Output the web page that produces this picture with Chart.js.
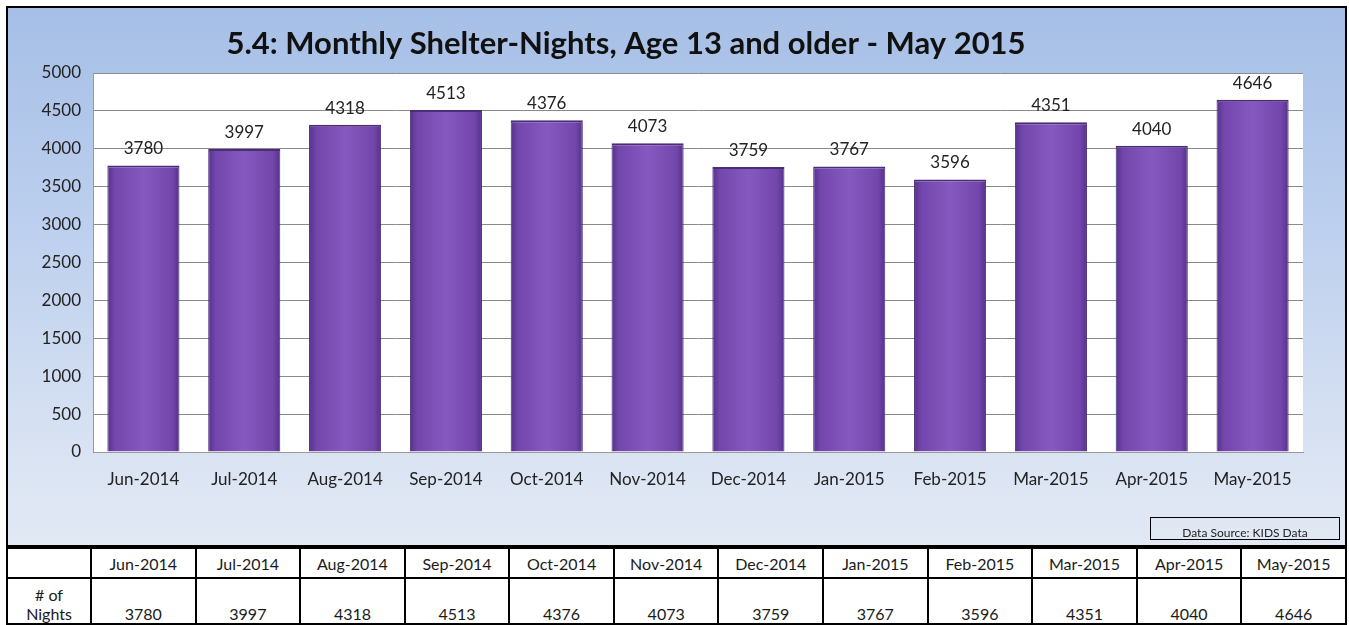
<!DOCTYPE html>
<html>
<head>
<meta charset="utf-8">
<script src="https://cdn.jsdelivr.net/npm/chart.js@4.4.1/dist/chart.umd.min.js"></script>
<style>
  body { margin: 0; background: #fff; font-family: Lato, "Open Sans", sans-serif; }
  #box {
    position: absolute; left: 6px; top: 6px; width: 1337px; height: 537px;
    border: 2px solid #000;
    background: linear-gradient(180deg, #a6bfe6 0%, #bccfee 40%, #dbe4f3 85%, #e2e9f5 100%);
  }
  #chart { position: absolute; left: 0; top: 0; }
  #source {
    position: absolute; left: 1142px; top: 509px; width: 188px; height: 21px;
    border: 1.5px solid #000; font-size: 12px; text-align: center;
    line-height: 30px; overflow: hidden; color: #222;
  }
  table {
    position: absolute; left: 6px; top: 547px; width: 1341px;
    border-collapse: collapse; table-layout: fixed; font-size: 16px; color: #1a1a1a;
  }
  td { border: 2px solid #000; text-align: center; padding: 0; background: #fff; }
  tr.head td { height: 28px; }
  tr.vals td { height: 44px; vertical-align: bottom; line-height: 19px; }
</style>
</head>
<body>
<div id="box">
  <canvas id="chart" width="1337" height="537"></canvas>
  <div id="source">Data Source: KIDS Data</div>
</div>
<table id="tbl"></table>
<script>
const months = ['Jun-2014', 'Jul-2014', 'Aug-2014', 'Sep-2014', 'Oct-2014', 'Nov-2014',
                'Dec-2014', 'Jan-2015', 'Feb-2015', 'Mar-2015', 'Apr-2015', 'May-2015'];
const nights = [3780, 3997, 4318, 4513, 4376, 4073, 3759, 3767, 3596, 4351, 4040, 4646];
const titleText = '5.4: Monthly Shelter-Nights, Age 13 and older - May 2015';
const rowLabel = '# of<br>Nights';

// table under the chart
const tbl = document.getElementById('tbl');
let html = '<colgroup><col style="width:84px">';
months.forEach(() => html += '<col>');
html += '</colgroup><tr class="head"><td></td>';
months.forEach(m => html += '<td>' + m + '</td>');
html += '</tr><tr class="vals"><td>' + rowLabel + '</td>';
nights.forEach(v => html += '<td>' + v + '</td>');
html += '</tr>';
tbl.innerHTML = html;

const BAR_PCT = 0.715;

const plotBg = {
    id: 'plotBg',
    beforeDraw(chart) {
        const a = chart.chartArea, c = chart.ctx;
        c.save();
        c.fillStyle = '#ffffff';
        c.fillRect(a.left, a.top, a.right - a.left, a.bottom - a.top);
        c.restore();
    }
};

const titleDraw = {
    id: 'titleDraw',
    afterDraw(chart) {
        const c = chart.ctx;
        c.save();
        c.font = 'bold 31px Lato';
        c.fillStyle = '#111';
        c.textAlign = 'center';
        c.textBaseline = 'middle';
        c.fillText(titleText, 618, 36);
        c.restore();
    }
};

const valueLabels = {
    id: 'valueLabels',
    afterDatasetsDraw(chart) {
        const c = chart.ctx;
        const meta = chart.getDatasetMeta(0);
        c.save();
        c.font = '17px Lato';
        c.fillStyle = '#222';
        c.textAlign = 'center';
        c.textBaseline = 'bottom';
        meta.data.forEach((bar, i) => {
            c.fillText(nights[i], bar.x, bar.y - 8);
        });
        c.restore();
    }
};

// horizontal shading across each bar, like the old 3D-ish Excel bars
function barFill(context) {
    const chart = context.chart;
    const xs = chart.scales.x;
    if (!xs || !isFinite(xs.width) || xs.width <= 0) return '#7a4fb2';
    const cx = xs.getPixelForValue(context.dataIndex);
    const half = xs.width / months.length * BAR_PCT / 2;
    const g = chart.ctx.createLinearGradient(cx - half, 0, cx + half, 0);
    g.addColorStop(0, '#55328a');
    g.addColorStop(0.1, '#7246ab');
    g.addColorStop(0.5, '#8659c0');
    g.addColorStop(0.9, '#7246ab');
    g.addColorStop(1, '#55328a');
    return g;
}

const ctx = document.getElementById('chart').getContext('2d');
const chart = new Chart(ctx, {
    type: 'bar',
    plugins: [plotBg, titleDraw, valueLabels],
    data: {
        labels: months,
        datasets: [{
            label: '# of Nights',
            data: nights,
            backgroundColor: barFill,
            borderColor: '#4a2c78',
            borderWidth: { top: 2, left: 1, right: 1, bottom: 0 },
            barPercentage: BAR_PCT,
            categoryPercentage: 1
        }]
    },
    options: {
        responsive: false,
        animation: false,
        layout: { padding: { top: 65, right: 42, left: 0, bottom: 0 } },
        plugins: {
            legend: { display: false },
            tooltip: { enabled: false }
        },
        scales: {
            x: {
                grid: { display: false },
                border: { color: '#999' },
                ticks: { color: '#222', font: { family: 'Lato', size: 17 }, padding: 9 },
                afterFit(scale) { scale.height = 93; }
            },
            y: {
                min: 0,
                max: 5000,
                ticks: {
                    stepSize: 500, color: '#222', font: { family: 'Lato', size: 17 }, padding: 12,
                    callback: v => String(v)
                },
                grid: { color: '#8a8a8a', drawTicks: false },
                border: { color: '#999' },
                afterFit(scale) { scale.width = 85; }
            }
        }
    }
});
chart.update();
</script>
</body>
</html>
